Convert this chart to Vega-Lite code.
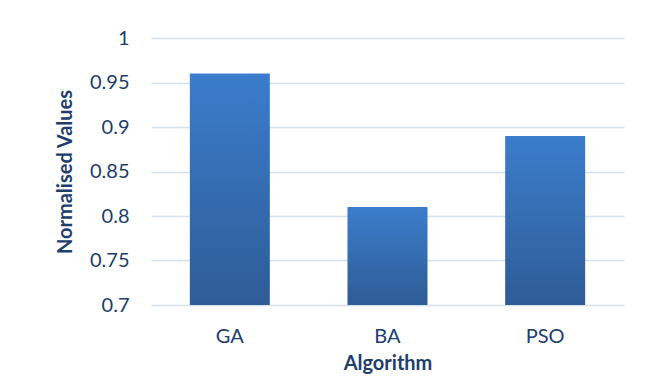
{
  "$schema": "https://vega.github.io/schema/vega-lite/v6.json",
  "autosize": {"type": "none"},
  "width": 473,
  "height": 267,
  "padding": {"left": 151, "top": 38, "right": 33, "bottom": 74},
  "background": "white",
  "config": {
    "view": {"stroke": null},
    "font": "Lato",
    "axis": {
      "labelFont": "Lato",
      "titleFont": "Lato",
      "labelColor": "#203d6b",
      "titleColor": "#203d6b",
      "labelFontSize": 20,
      "titleFontSize": 20,
      "titleFontWeight": "bold",
      "domain": false,
      "ticks": false
    }
  },
  "data": {
    "values": [
      {"Algorithm": "GA", "Value": 0.96},
      {"Algorithm": "BA", "Value": 0.81},
      {"Algorithm": "PSO", "Value": 0.89}
    ]
  },
  "mark": {
    "type": "bar",
    "size": 80,
    "color": {
      "gradient": "linear",
      "x1": 0, "y1": 0, "x2": 0, "y2": 1,
      "stops": [
        {"offset": 0, "color": "#3b7dcb"},
        {"offset": 1, "color": "#2e5c96"}
      ]
    }
  },
  "encoding": {
    "x": {
      "field": "Algorithm",
      "type": "nominal",
      "sort": ["GA", "BA", "PSO"],
      "scale": {"paddingInner": 0, "paddingOuter": 0},
      "axis": {
        "title": "Algorithm",
        "labelAngle": 0,
        "labelPadding": 21,
        "grid": false,
        "titleY": 58,
        "titleBaseline": "middle"
      }
    },
    "y": {
      "field": "Value",
      "type": "quantitative",
      "scale": {"domain": [0.7, 1], "zero": false, "nice": false},
      "axis": {
        "title": "Normalised Values",
        "values": [0.7, 0.75, 0.8, 0.85, 0.9, 0.95, 1],
        "format": "~g",
        "labelPadding": 22,
        "grid": true,
        "gridColor": "#d6e2f0",
        "gridWidth": 1.5,
        "titleX": -86,
        "titleY": 133.5,
        "titleBaseline": "middle",
        "titleAnchor": "middle"
      }
    },
    "y2": {"datum": 0.7}
  }
}
